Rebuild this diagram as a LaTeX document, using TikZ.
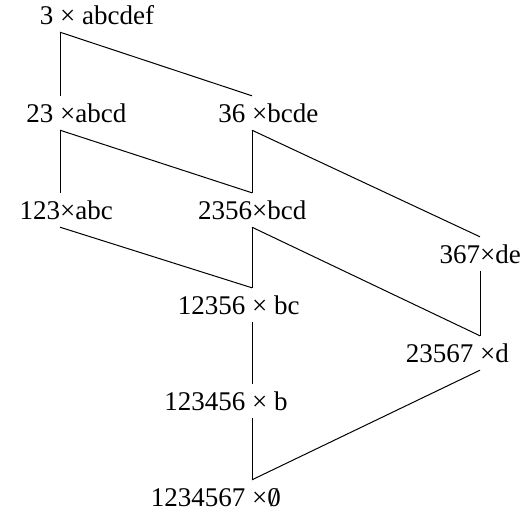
\documentclass[tikz,border=0pt]{standalone}
\usepackage{fontspec}
\setmainfont{LiberationSerif}[Extension=.ttf,UprightFont=*-Regular]
\newcommand{\slashzero}{\ooalign{0\cr\hidewidth/\hidewidth}}
\begin{document}
\begin{tikzpicture}[x=1pt,y=-1pt,
  lab/.style={anchor=base west, inner xsep=0pt, inner ysep=8pt,
    text height=18pt, text depth=0pt, font=\fontsize{27}{32}\selectfont},
  link/.style={line width=1pt}]
\useasboundingbox (0,0) rectangle (524,512);
\node[lab] (n0) at (60,24)  {\llap{3 }×\rlap{ abcdef}};
\node[lab] (n1) at (60,122) {\llap{23 }×\rlap{abcd}};
\node[lab] (n2) at (252,122) {\llap{36 }×\rlap{bcde}};
\node[lab] (n3) at (60,219) {\llap{123}×\rlap{abc}};
\node[lab] (n4) at (252,219) {\llap{2356}×\rlap{bcd}};
\node[lab] (n5) at (480,263) {\llap{367}×\rlap{de}};
\node[lab] (n6) at (252,314) {\llap{12356 }×\rlap{ bc}};
\node[lab] (n7) at (480,362) {\llap{23567 }×\rlap{d}};
\node[lab] (n8) at (252,410) {\llap{123456 }×\rlap{ b}};
\node[lab] (n9) at (252,506) {\llap{1234567 }×\rlap{\slashzero}};
\draw[link] (n0.south west) -- (n1.north west);
\draw[link] (n0.south west) -- (n2.north west);
\draw[link] (n1.south west) -- (n3.north west);
\draw[link] (n1.south west) -- (n4.north west);
\draw[link] (n2.south west) -- (n4.north west);
\draw[link] (n2.south west) -- (n5.north west);
\draw[link] (n3.south west) -- (n6.north west);
\draw[link] (n4.south west) -- (n6.north west);
\draw[link] (n4.south west) -- (n7.north west);
\draw[link] (n5.south west) -- (n7.north west);
\draw[link] (n6.south west) -- (n8.north west);
\draw[link] (n8.south west) -- (n9.north west);
\draw[link] (n7.south west) -- (n9.north west);
\end{tikzpicture}
\end{document}
